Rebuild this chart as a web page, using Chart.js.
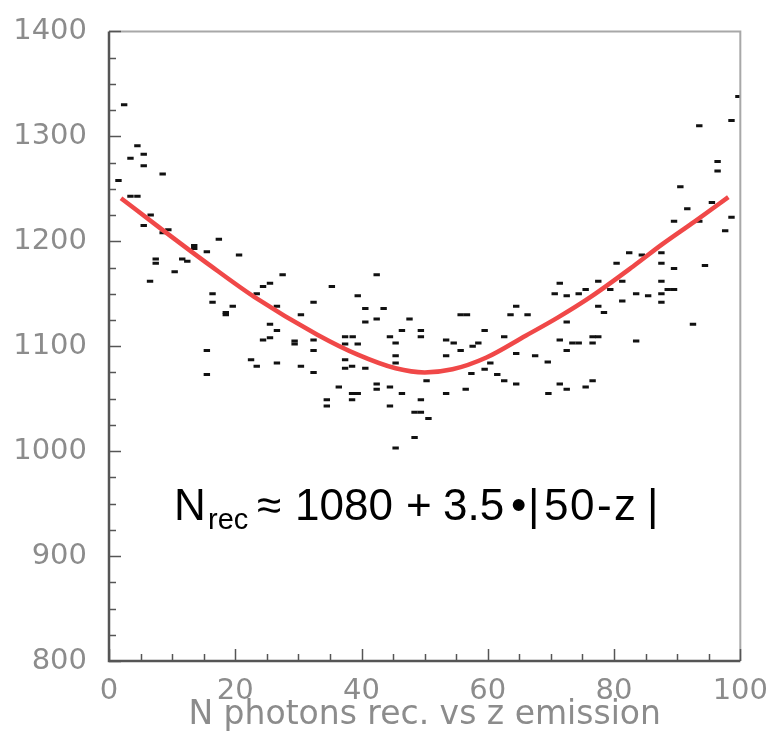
<!DOCTYPE html>
<html>
<head>
<meta charset="utf-8">
<script src="https://cdn.jsdelivr.net/npm/chart.js@4/dist/chart.umd.min.js"></script>
<style>
  html, body { margin: 0; padding: 0; background: #fff; }
  #wrap { width: 773px; height: 735px; }
</style>
</head>
<body>
<div id="wrap"><canvas id="nphChart" width="773" height="735"></canvas></div>
<script>
// scatter: z emission vs N photons reconstructed
var zEmission = [2.4, 4.5, 3.4, 5.5, 5.5, 8.5, 1.5, 3.4, 4.5, 6.6, 5.5, 8.5, 9.4, 13.5, 13.5, 15.5, 12.4, 11.6, 7.4, 7.4, 10.4, 6.5, 16.4, 16.4, 15.5, 15.5,
  17.4, 20.6, 19.6, 18.5, 18.5, 27.5, 24.4, 25.5, 23.4, 26.6, 30.4, 32.4, 25.5, 26.6, 25.5, 24.4, 29.4, 29.4, 32.4, 32.4, 22.5, 23.4, 26.6, 30.4, 32.4,
  42.4, 35.3, 39.4, 40.6, 43.5, 40.6, 42.4, 47.6, 46.4, 49.4, 49.4, 37.4, 38.6, 37.4, 39.4, 44.5, 45.4, 37.4, 37.4, 38.5, 40.6, 45.4, 45.4, 36.4,
  42.4, 42.4, 44.5, 46.4, 38.5, 39.4, 38.5, 34.5, 34.5, 44.5, 49.4, 48.4, 49.4, 48.4, 45.4,
  50.6, 50.3, 55.7, 56.7, 53.4, 54.6, 55.7, 53.4, 57.6, 58.5, 59.5, 62.6, 63.6, 64.5, 66.3, 64.5, 60.4, 59.5, 57.4, 61.5, 62.6, 64.5, 53.4, 56.5,
  71.4, 70.6, 72.5, 74.4, 75.5, 77.5, 80.4, 82.4, 81.3, 79.4, 81.3, 77.5, 78.4, 72.5, 71.4, 72.5, 73.4, 74.4, 76.6, 77.5, 76.6, 67.5, 69.5, 71.4,
  72.5, 69.6, 75.5, 76.6,
  99.7, 98.6, 93.5, 96.4, 96.4, 90.5, 91.6, 95.5, 89.5, 93.5, 98.6, 97.6, 84.4, 87.5, 87.5, 89.5, 94.4, 87.5, 83.5, 85.4, 87.5, 88.5, 89.5, 87.5,
  92.5, 83.5];
var nPhotons = [1330, 1291, 1279, 1283, 1272, 1264, 1258, 1243, 1243, 1225, 1215, 1208, 1211, 1196, 1193, 1190, 1181, 1183, 1183, 1179, 1171, 1162, 1150, 1142, 1096, 1073,
  1202, 1187, 1138, 1132, 1130, 1168, 1157, 1160, 1150, 1138, 1130, 1142, 1121, 1115, 1108, 1106, 1105, 1102, 1106, 1096, 1087, 1081, 1084, 1081, 1075,
  1168, 1157, 1148, 1136, 1136, 1123, 1126, 1126, 1115, 1115, 1109, 1109, 1109, 1102, 1102, 1109, 1103, 1087, 1079, 1081, 1079, 1091, 1084, 1061,
  1064, 1059, 1061, 1055, 1055, 1055, 1049, 1049, 1043, 1043, 1049, 1037, 1037, 1013, 1003,
  1031, 1067, 1130, 1130, 1106, 1103, 1096, 1091, 1100, 1103, 1115, 1109, 1130, 1138, 1130, 1093, 1084, 1078, 1074, 1073, 1067, 1064, 1055, 1059,
  1160, 1150, 1148, 1150, 1154, 1162, 1179, 1189, 1162, 1154, 1143, 1138, 1132, 1123, 1106, 1096, 1103, 1103, 1109, 1109, 1103, 1091, 1085, 1064,
  1059, 1055, 1061, 1067,
  1338, 1315, 1310, 1276, 1267, 1252, 1231, 1237, 1219, 1219, 1223, 1210, 1187, 1189, 1179, 1174, 1177, 1162, 1150, 1148, 1150, 1154, 1154, 1142,
  1121, 1105];

// red curve
var fitZ = [1.9, 8, 16, 23, 33, 39.4, 45.4, 50, 54.4, 59.7, 66, 71, 76.3, 83, 87.6, 92.8, 98.1];
var fitN = [1241, 1213, 1177, 1147, 1111, 1092, 1079, 1075, 1078, 1089, 1110, 1127, 1147, 1176, 1197, 1219, 1242];

var xTicks = [0, 20, 40, 60, 80, 100];
var yTicks = [800, 900, 1000, 1100, 1200, 1300, 1400];

var scatterPts = [];
for (var i = 0; i < zEmission.length; i++) {
  scatterPts.push({ x: zEmission[i], y: nPhotons[i] });
}
var fitPts = [];
for (var j = 0; j < fitZ.length; j++) {
  fitPts.push({ x: fitZ[j], y: fitN[j] });
}

var labelColor = "#8c8c8c";

// frame, inward ticks and the formula text
var framePlugin = {
  id: "frame",
  afterDraw: function (chart) {
    var ctx = chart.ctx;
    var a = chart.chartArea;
    var xs = chart.scales.x;
    var ys = chart.scales.y;
    ctx.save();
    ctx.strokeStyle = "#a8a8a8";
    ctx.lineWidth = 2;
    ctx.beginPath();
    ctx.moveTo(a.left, a.top);
    ctx.lineTo(a.right, a.top);
    ctx.lineTo(a.right, a.bottom);
    ctx.stroke();

    ctx.strokeStyle = "#555";
    ctx.lineWidth = 2.5;
    ctx.beginPath();
    ctx.moveTo(a.left, a.top);
    ctx.lineTo(a.left, a.bottom);
    ctx.lineTo(a.right, a.bottom);
    ctx.stroke();

    ctx.lineWidth = 1.5;
    for (var v = 800; v <= 1400; v += 25) {
      var py = Math.round(ys.getPixelForValue(v)) + 0.5;
      var len = v % 100 === 0 ? 12 : 7;
      ctx.beginPath();
      ctx.moveTo(a.left, py);
      ctx.lineTo(a.left + len, py);
      ctx.stroke();
    }
    for (var u = 0; u <= 100; u += 5) {
      var px = Math.round(xs.getPixelForValue(u)) + 0.5;
      var l2 = u % 20 === 0 ? 12 : 7;
      ctx.beginPath();
      ctx.moveTo(px, a.bottom);
      ctx.lineTo(px, a.bottom - l2);
      ctx.stroke();
    }

    // N_rec ~ 1080 + 3.5 * |50-z|
    var big = "44px 'Liberation Sans', Arial, sans-serif";
    ctx.fillStyle = "#000";
    ctx.textBaseline = "alphabetic";
    ctx.font = big;
    ctx.fillText("N", 174, 520);
    ctx.font = "29px 'Liberation Sans', Arial, sans-serif";
    ctx.fillText("rec", 208, 529);
    ctx.font = big;
    ctx.fillText("\u2248", 257, 520);
    ctx.fillText("1080", 295, 520);
    ctx.fillText("+", 406, 520);
    ctx.fillText("3.5", 443, 520);
    ctx.fillText("\u2022", 511, 520);
    var tail = [["|", 528], ["5", 544], ["0", 570], ["-", 597], ["z", 614], ["|", 647]];
    for (var k = 0; k < tail.length; k++) {
      ctx.fillText(tail[k][0], tail[k][1], 520);
    }
    ctx.restore();
  }
};

var ctx = document.getElementById("nphChart").getContext("2d");

new Chart(ctx, {
  type: "scatter",
  data: {
    datasets: [
      {
        label: "events",
        data: scatterPts,
        pointStyle: "line",
        pointRadius: 3.2,
        pointBorderWidth: 3,
        borderColor: "#111",
        backgroundColor: "#111",
        order: 2
      },
      {
        type: "line",
        label: "fit",
        data: fitPts,
        borderColor: "rgb(240, 72, 72)",
        borderWidth: 4.5,
        pointRadius: 0,
        fill: false,
        cubicInterpolationMode: "monotone",
        order: 1
      }
    ]
  },
  options: {
    responsive: false,
    animation: false,
    layout: { padding: { left: 0, right: 31, top: 25, bottom: 0 } },
    plugins: {
      legend: { display: false },
      tooltip: { enabled: false }
    },
    scales: {
      x: {
        type: "linear",
        min: 0,
        max: 100,
        afterBuildTicks: function (s) {
          s.ticks = xTicks.map(function (t) { return { value: t }; });
        },
        afterFit: function (s) { s.height = 74; },
        ticks: {
          color: labelColor,
          font: { family: "'DejaVu Sans'", size: 29 },
          padding: 5,
          maxRotation: 0,
          callback: function (v) { return String(v); }
        },
        grid: { display: false },
        border: { display: false },
        title: {
          display: true,
          text: "N photons rec. vs z emission",
          color: labelColor,
          font: { family: "'DejaVu Sans'", size: 33 },
          padding: { top: 0, bottom: 0 }
        }
      },
      y: {
        type: "linear",
        min: 800,
        max: 1400,
        afterBuildTicks: function (s) {
          s.ticks = yTicks.map(function (t) { return { value: t }; });
        },
        afterFit: function (s) { s.width = 109; },
        ticks: {
          color: labelColor,
          font: { family: "'DejaVu Sans'", size: 29 },
          padding: 14,
          callback: function (v) { return String(v); }
        },
        grid: { display: false },
        border: { display: false }
      }
    }
  },
  plugins: [framePlugin]
});
</script>
</body>
</html>
